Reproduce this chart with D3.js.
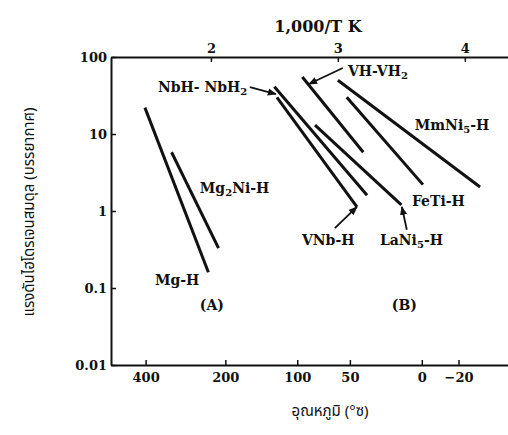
<!DOCTYPE html>
<html>
<head>
<meta charset="utf-8">
<script src="https://cdn.jsdelivr.net/npm/d3@7"></script>
<style>
  body { margin: 0; background: #fff; }
  text { font-family: "DejaVu Serif", "Liberation Serif", serif; font-weight: bold; fill: #111; }
  .thai { font-family: "Noto Sans Thai", "Noto Sans", "DejaVu Sans", sans-serif; font-weight: normal; }
</style>
</head>
<body>
<div id="chart"></div>
<script>
// alloy lines, start/end in (1000/T, pressure atm)
var alloys = ["Mg-H", "Mg2Ni-H", "NbH-NbH2", "VNb-H", "VH-VH2", "LaNi5-H", "FeTi-H", "MmNi5-H"];
var invTStart = [1.48, 1.69, 2.50, 2.52, 2.72, 2.82, 3.07, 3.00];
var pStart    = [22, 5.8, 41, 30, 55, 13, 30, 50];
var invTEnd   = [1.98, 2.06, 3.23, 3.15, 3.20, 3.50, 3.67, 4.12];
var pEnd      = [0.16, 0.33, 1.6, 1.13, 5.8, 1.2, 2.2, 2.05];

var yTicks = [0.01, 0.1, 1, 10, 100];
var yTickLabels = ["0.01", "0.1", "1", "10", "100"];
var topTicks = [2, 3, 4];
var tempTicks = [400, 200, 100, 50, 0, -20];
var tempLabels = ["400", "200", "100", "50", "0", "\u221220"];

// label text and anchors (1000/T, P)
var labelText = ["NbH- NbH|2", "VH-VH|2", "MmNi|5|-H", "FeTi-H", "LaNi|5|-H", "VNb-H", "Mg|2|Ni-H", "Mg-H", "(A)", "(B)"];
var labelX = [1.583, 3.079, 3.606, 3.583, 3.331, 2.717, 1.913, 1.559, 1.913, 3.425];
var labelP = [35, 56.6, 11.3, 1.16, 0.36, 0.36, 1.71, 0.109, 0.052, 0.052];

// leader arrows: from label to line
var arrowX1 = [2.307, 3.039, 2.976, 3.543];
var arrowP1 = [40.7, 72, 0.60, 0.57];
var arrowX2 = [2.512, 2.772, 3.150, 3.504];
var arrowP2 = [33, 44.6, 1.13, 1.13];

var width = 508, height = 435;
var margin = { top: 57, left: 111, bottom: 70 };

var svg = d3.select("#chart").append("svg")
    .attr("width", width)
    .attr("height", height);

var x = d3.scaleLinear().domain([1.213, 4.34]).range([margin.left, width]);
var y = d3.scaleLog().domain([0.01, 100]).range([height - margin.bottom, margin.top]);

// axes
var yAxis = d3.axisLeft(y)
    .tickValues(yTicks)
    .tickSize(-5)
    .tickSizeOuter(0)
    .tickPadding(4)
    .tickFormat(function(d, i) { return yTickLabels[i]; });

var topAxis = d3.axisTop(x)
    .tickValues(topTicks)
    .tickSize(-5)
    .tickSizeOuter(0)
    .tickPadding(4)
    .tickFormat(d3.format("d"));

var bottomAxis = d3.axisBottom(x)
    .tickValues(tempTicks.map(function(t) { return 1000 / (t + 273.15); }))
    .tickSize(-5)
    .tickSizeOuter(0)
    .tickPadding(8)
    .tickFormat(function(d, i) { return tempLabels[i]; });

function styleAxis(g) {
    g.select(".domain").attr("stroke", "#111").attr("stroke-width", 2);
    g.selectAll(".tick line").attr("stroke", "#111").attr("stroke-width", 1.5);
    g.selectAll(".tick text").style("font-size", "13px").attr("fill", "#111");
    g.attr("font-family", null).attr("font-size", null);
}

svg.append("g")
    .attr("transform", "translate(" + margin.left + ",0)")
    .call(yAxis).call(styleAxis);

svg.append("g")
    .attr("transform", "translate(0," + margin.top + ")")
    .call(topAxis).call(styleAxis);

svg.append("g")
    .attr("transform", "translate(0," + (height - margin.bottom) + ")")
    .call(bottomAxis).call(styleAxis);

// axis titles
svg.append("text")
    .attr("x", 318).attr("y", 32)
    .attr("text-anchor", "middle")
    .style("font-size", "16px")
    .text("1,000/T K");

svg.append("text")
    .attr("class", "thai")
    .attr("x", 330).attr("y", 416)
    .attr("text-anchor", "middle")
    .style("font-size", "15px")
    .text("อุณหภูมิ (°ซ)");

svg.append("text")
    .attr("class", "thai")
    .attr("transform", "translate(34,212) rotate(-90)")
    .attr("text-anchor", "middle")
    .style("font-size", "15px")
    .text("แรงดันไฮโดรเจนสมดุล (บรรยากาศ)");

// the alloy lines
svg.append("g").selectAll("line")
    .data(alloys)
    .enter().append("line")
    .attr("x1", function(d, i) { return x(invTStart[i]); })
    .attr("y1", function(d, i) { return y(pStart[i]); })
    .attr("x2", function(d, i) { return x(invTEnd[i]); })
    .attr("y2", function(d, i) { return y(pEnd[i]); })
    .attr("stroke", "#111")
    .attr("stroke-width", 3);

// arrows
svg.append("defs").append("marker")
    .attr("id", "head")
    .attr("viewBox", "0 0 10 10")
    .attr("refX", 9).attr("refY", 5)
    .attr("markerWidth", 5).attr("markerHeight", 5)
    .attr("orient", "auto")
    .append("path")
    .attr("d", "M0,1 L10,5 L0,9 Z")
    .attr("fill", "#111");

svg.append("g").selectAll("line")
    .data(arrowX1)
    .enter().append("line")
    .attr("x1", function(d, i) { return x(arrowX1[i]); })
    .attr("y1", function(d, i) { return y(arrowP1[i]); })
    .attr("x2", function(d, i) { return x(arrowX2[i]); })
    .attr("y2", function(d, i) { return y(arrowP2[i]); })
    .attr("stroke", "#111")
    .attr("stroke-width", 1.8)
    .attr("marker-end", "url(#head)");

// curve labels, "|" toggles subscript
var labels = svg.append("g").selectAll("text")
    .data(labelText)
    .enter().append("text")
    .attr("x", function(d, i) { return x(labelX[i]); })
    .attr("y", function(d, i) { return y(labelP[i]); })
    .style("font-size", "14px");

labels.each(function(d) {
    var t = d3.select(this);
    d.split("|").forEach(function(part, j) {
        t.append("tspan")
            .attr("dy", j == 0 ? 0 : (j % 2 == 1 ? 3 : -3))
            .style("font-size", j % 2 == 1 ? "10px" : null)
            .text(part);
    });
});
</script>
</body>
</html>
